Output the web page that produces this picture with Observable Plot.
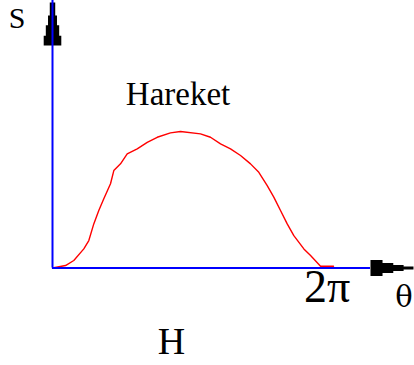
<!DOCTYPE html>
<html>
<head>
<meta charset="utf-8">
<script src="https://cdn.jsdelivr.net/npm/d3@7"></script>
<script src="https://cdn.jsdelivr.net/npm/@observablehq/plot@0.6"></script>
<style>
html, body { margin: 0; padding: 0; background: #fff; }
</style>
</head>
<body>
<div id="chart"></div>
<script>
// Cam hareket eğrisi: θ (0..2π) -> S (normalize)
const theta = [0, 0.291, 0.476, 0.700, 0.812, 0.923, 1.035, 1.147, 1.297, 1.371, 1.521, 1.670, 1.894, 2.118, 2.341, 2.638, 2.862, 3.309, 3.533, 3.757, 3.980, 4.204, 4.428, 4.613, 4.801, 4.948, 5.098, 5.248, 5.396, 5.620, 5.770, 5.993, 6.283];
const sVals = [0, 0.018, 0.055, 0.140, 0.201, 0.323, 0.421, 0.507, 0.617, 0.714, 0.763, 0.836, 0.873, 0.921, 0.958, 0.990, 1.000, 0.983, 0.958, 0.909, 0.873, 0.824, 0.763, 0.701, 0.604, 0.519, 0.421, 0.323, 0.237, 0.140, 0.092, 0.013, 0.013];

const yAxisLabel = "S";
const xAxisLabel = "θ";
const tickLabel = "2π";
const curveLabel = "Hareket";
const bottomLabel = "H";

const xMax = 8.094;   // axis extent (θ units)
const yMax = 1.960;   // axis extent (S units)
const xArrowBase = 7.110;
const yArrowBase = 1.630;

const curve = theta.map((t, i) => ({theta: t, s: sVals[i]}));

function stepShape(steps) {
  return {
    draw(ctx, l, r) {
      let prev = 0;
      ctx.moveTo(-r * steps[0][1], 0);
      for (const [f, w] of steps) {
        ctx.lineTo(-r * w, -prev * l);
        ctx.lineTo(-r * w, -f * l);
        prev = f;
      }
      for (let i = steps.length - 1; i >= 0; i--) {
        const [f, w] = steps[i];
        const lo = i > 0 ? steps[i - 1][0] : 0;
        ctx.lineTo(r * w, -f * l);
        ctx.lineTo(r * w, -lo * l);
      }
      ctx.closePath();
    }
  };
}

const upArrow = stepShape([[0.23, 1], [0.47, 0.76], [0.7, 0.51], [1, 0.31]]);
const rightArrow = stepShape([[0.28, 1], [0.53, 0.62], [0.77, 0.38], [1, 0.18]]);

const font = "'Liberation Serif', 'Times New Roman', serif";
const blue = "#0000ff";

const chart = Plot.plot({
  width: 414,
  height: 365,
  margin: 0,
  style: {background: "#fff", overflow: "visible"},
  x: {domain: [0, xMax], range: [52, 414], axis: null},
  y: {domain: [0, yMax], range: [267.5, 0], axis: null},
  marks: [
    Plot.line(curve, {x: "theta", y: "s", stroke: "#ff0000", strokeWidth: 1.4, curve: "linear"}),
    Plot.vector([0], {x: 0, y: yArrowBase, length: 43, r: 8.8, rotate: 0, anchor: "start", shape: upArrow, fill: "black", stroke: "none"}),
    Plot.vector([0], {x: xArrowBase, y: 0, length: 43, r: 8, rotate: 90, anchor: "start", shape: rightArrow, fill: "black", stroke: "none"}),
    Plot.ruleX([0], {x: 0, y1: 0, y2: yMax, stroke: blue, strokeWidth: 2}),
    Plot.ruleY([0], {y: 0, x1: 0, x2: xArrowBase, stroke: blue, strokeWidth: 2}),
    Plot.text([yAxisLabel], {x: -0.789, y: 1.760, text: d => d, fontFamily: font, fontSize: 30, textAnchor: "middle", lineAnchor: "bottom", fill: "black"}),
    Plot.text([curveLabel], {x: 2.807, y: 1.196, text: d => d, fontFamily: font, fontSize: 33, textAnchor: "middle", lineAnchor: "bottom", fill: "black"}),
    Plot.text([tickLabel], {x: 6.138, y: -0.251, text: d => d, fontFamily: font, fontSize: 46, textAnchor: "middle", lineAnchor: "bottom", fill: "black"}),
    Plot.text([xAxisLabel], {x: 7.86, y: -0.287, text: d => d, fontFamily: "'DejaVu Serif', serif", fontSize: 29, textAnchor: "middle", lineAnchor: "bottom", fill: "black"}),
    Plot.text([bottomLabel], {x: 2.661, y: -0.629, text: d => d, fontFamily: font, fontSize: 38, textAnchor: "middle", lineAnchor: "bottom", fill: "black"})
  ]
});
document.getElementById("chart").appendChild(chart);
</script>
</body>
</html>
